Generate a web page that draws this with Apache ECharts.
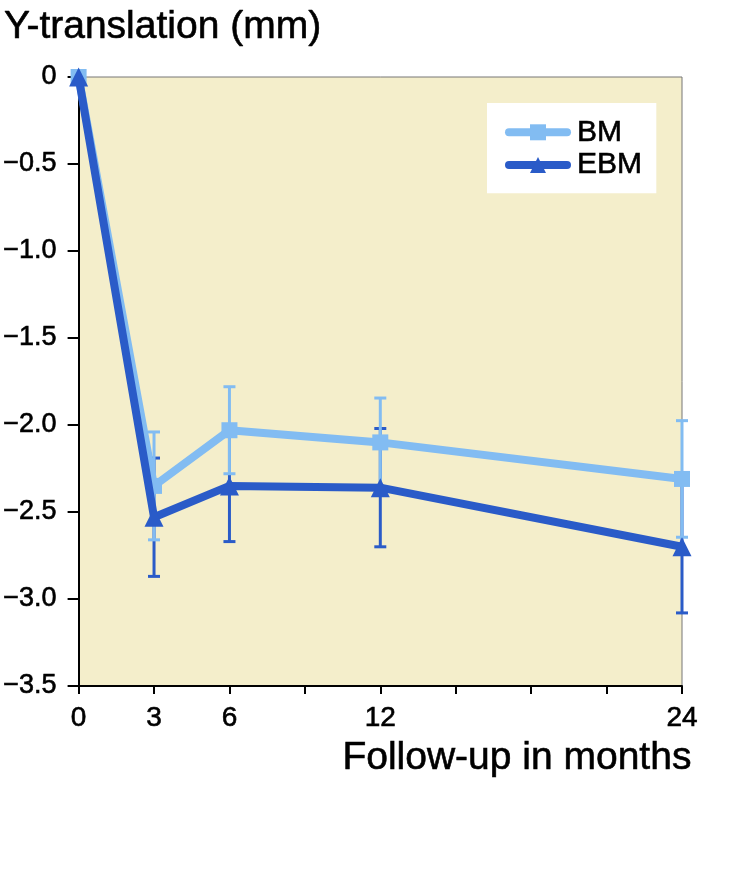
<!DOCTYPE html>
<html><head><meta charset="utf-8">
<script src="https://cdn.jsdelivr.net/npm/echarts@6/dist/echarts.min.js"></script>
<style>html,body{margin:0;padding:0;background:#fff}#c{width:732px;height:895px}</style>
</head><body><div id="c"></div>
<script>
const months = [0, 3, 6, 12, 24];
const xLabelMonths = [0, 3, 6, 12, 24];
const bmMean = [0, -2.35, -2.03, -2.10, -2.31];
const bmErr = [0, 0.31, 0.25, 0.255, 0.335];
const ebmMean = [0, -2.53, -2.35, -2.36, -2.70];
const ebmErr = [0, 0.34, 0.32, 0.34, 0.38];
const seriesNames = ['BM', 'EBM'];
const yTitle = 'Y-translation (mm)';
const xTitle = 'Follow-up in months';

const LIGHT = '#82bcf2';
const DARK = '#2a5bc8';
const FONT = '"Liberation Sans", Arial, Helvetica, sans-serif';
const heavy = { textBorderColor: '#000', textBorderWidth: 0.6 };

function errData(mean, err) {
  return months.map((m, i) => [m, mean[i] - err[i], mean[i] + err[i], err[i]]);
}
function errSeries(name, mean, err, color, z) {
  return {
    type: 'custom', name: name + ' err', z: z, silent: true,
    data: errData(mean, err),
    renderItem: function (params, api) {
      if (api.value(3) === 0) return null;
      const lo = api.coord([api.value(0), api.value(1)]);
      const hi = api.coord([api.value(0), api.value(2)]);
      const hw = 6;
      const st = { stroke: color, lineWidth: 3 };
      return { type: 'group', children: [
        { type: 'line', shape: { x1: lo[0], y1: lo[1], x2: hi[0], y2: hi[1] }, style: st },
        { type: 'line', shape: { x1: lo[0] - hw, y1: lo[1], x2: lo[0] + hw, y2: lo[1] }, style: st },
        { type: 'line', shape: { x1: hi[0] - hw, y1: hi[1], x2: hi[0] + hw, y2: hi[1] }, style: st }
      ]};
    }
  };
}

const chart = echarts.init(document.getElementById('c'), null, { renderer: 'canvas' });
chart.setOption({
  animation: false,
  backgroundColor: '#ffffff',
  textStyle: { fontFamily: FONT },
  title: [
    { text: yTitle, left: -1, top: 3, textStyle: Object.assign({ fontFamily: FONT, fontSize: 39, fontWeight: 'normal', color: '#000' }, heavy) },
    { text: xTitle, right: 35, top: 734, textStyle: Object.assign({ fontFamily: FONT, fontSize: 39, fontWeight: 'normal', color: '#000' }, heavy) }
  ],
  grid: { left: 78, right: 50, top: 77, bottom: 209, show: true, backgroundColor: '#f4eecb', borderColor: '#777', borderWidth: 1 },
  legend: {
    data: seriesNames, left: 487, top: 103, orient: 'vertical',
    backgroundColor: '#ffffff', padding: [14, 14, 13, 18], itemGap: 2,
    itemWidth: 58, itemHeight: 20,
    lineStyle: { width: 8, cap: 'round' },
    textStyle: Object.assign({ fontFamily: FONT, fontSize: 30, color: '#000', padding: [0, 0, 0, 5] }, heavy)
  },
  xAxis: {
    type: 'value', min: 0, max: 24, interval: 3,
    axisLine: { onZero: false, lineStyle: { color: '#000', width: 2 } },
    axisTick: { length: 8, lineStyle: { color: '#000', width: 2 } },
    splitLine: { show: false },
    axisLabel: Object.assign({
      margin: 18, fontFamily: FONT, fontSize: 28, color: '#000',
      formatter: v => xLabelMonths.indexOf(v) >= 0 ? String(v) : ''
    }, heavy)
  },
  yAxis: {
    type: 'value', min: -3.5, max: 0, interval: 0.5,
    axisLine: { show: true, onZero: false, lineStyle: { color: '#000', width: 2 } },
    axisTick: { show: true, length: 11, lineStyle: { color: '#000', width: 2 } },
    splitLine: { show: false },
    axisLabel: Object.assign({
      margin: 22, fontFamily: FONT, fontSize: 27, color: '#000',
      formatter: v => v === 0 ? '0' : '\u2212' + Math.abs(v).toFixed(1)
    }, heavy)
  },
  series: [
    errSeries('EBM', ebmMean, ebmErr, DARK, 2),
    errSeries('BM', bmMean, bmErr, LIGHT, 3),
    {
      name: 'BM', type: 'line', z: 4,
      data: months.map((m, i) => [m, bmMean[i]]),
      symbol: 'rect', symbolSize: 16,
      lineStyle: { color: LIGHT, width: 8 }, itemStyle: { color: LIGHT }
    },
    {
      name: 'EBM', type: 'line', z: 5,
      data: months.map((m, i) => [m, ebmMean[i]]),
      symbol: 'triangle', symbolSize: 19,
      lineStyle: { color: DARK, width: 8 }, itemStyle: { color: DARK }
    }
  ]
});
</script></body></html>
